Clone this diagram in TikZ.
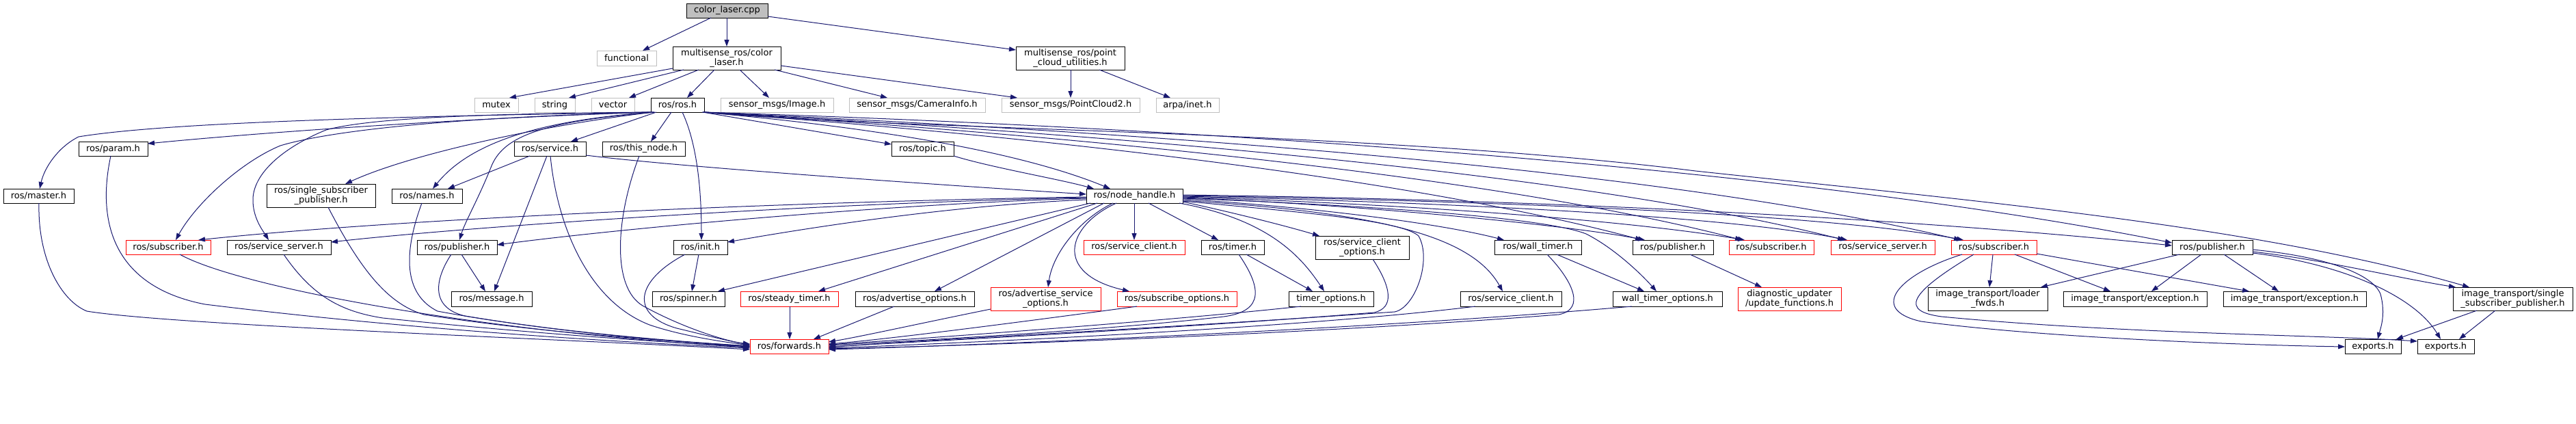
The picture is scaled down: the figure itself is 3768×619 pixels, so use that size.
\documentclass[tikz,border=0pt]{standalone}
\usepackage{fontspec}
\setmainfont{DejaVu Sans}
\usetikzlibrary{arrows.meta}
\definecolor{edgec}{HTML}{191970}
\definecolor{grayb}{HTML}{BFBFBF}
\definecolor{redb}{HTML}{FF0000}
\newcommand\mkn[7]{\node[#1,minimum width={#5-#3},minimum height={#6-#4}] (#2) at ({(#3+#5)/2},{(#4+#6)/2}) {#7};}
\begin{document}
\begin{tikzpicture}[x=1pt,y=-1pt,
  box/.style={draw=black,line width=1pt,fill=white,inner sep=0pt,outer sep=0pt,align=center,font=\fontsize{13}{12.5}\selectfont},
  gbox/.style={box,draw=grayb},
  rbox/.style={box,draw=redb},
  cbox/.style={box,fill=grayb},
  edge/.style={draw=edgec,line width=1pt,-{Triangle[length=10pt,width=7pt]}}]
\useasboundingbox (0,0) rectangle (3768,619);
% nodes
\mkn{cbox}{cpp}{1004}{5}{1123}{26}{color\_laser.cpp}
\mkn{gbox}{func}{873}{74}{960}{96}{functional}
\mkn{box}{clh}{984}{68}{1142}{102}{multisense\_ros/color\\\_laser.h}
\mkn{box}{pcu}{1486}{68}{1645}{102}{multisense\_ros/point\\\_cloud\_utilities.h}
\mkn{gbox}{mutex}{694}{143}{758}{164}{mutex}
\mkn{gbox}{string}{782}{143}{841}{164}{string}
\mkn{gbox}{vector}{865}{143}{928}{164}{vector}
\mkn{box}{rosh}{952}{143}{1030}{164}{ros/ros.h}
\mkn{gbox}{img}{1054}{143}{1219}{164}{sensor\_msgs/Image.h}
\mkn{gbox}{caminfo}{1242}{143}{1441}{164}{sensor\_msgs/CameraInfo.h}
\mkn{gbox}{pc2}{1465}{143}{1667}{164}{sensor\_msgs/PointCloud2.h}
\mkn{gbox}{inet}{1691}{143}{1783}{164}{arpa/inet.h}
\mkn{box}{param}{115}{207}{216}{228}{ros/param.h}
\mkn{box}{service}{752}{207}{857}{228}{ros/service.h}
\mkn{box}{thisnode}{881}{207}{1002}{228}{ros/this\_node.h}
\mkn{box}{topic}{1304}{207}{1395}{228}{ros/topic.h}
\mkn{box}{master}{5}{276}{108}{297}{ros/master.h}
\mkn{box}{ssp}{390}{269}{549}{303}{ros/single\_subscriber\\\_publisher.h}
\mkn{box}{names}{573}{276}{676}{297}{ros/names.h}
\mkn{box}{nh}{1589}{276}{1730}{297}{ros/node\_handle.h}
\mkn{rbox}{subL}{184}{351}{308}{372}{ros/subscriber.h}
\mkn{box}{ssL}{332}{351}{484}{372}{ros/service\_server.h}
\mkn{box}{pubL}{610}{351}{727}{372}{ros/publisher.h}
\mkn{box}{init}{985}{351}{1064}{372}{ros/init.h}
\mkn{rbox}{sc1}{1585}{351}{1733}{372}{ros/service\_client.h}
\mkn{box}{timer}{1757}{351}{1849}{372}{ros/timer.h}
\mkn{box}{sco}{1924}{345}{2061}{379}{ros/service\_client\\\_options.h}
\mkn{box}{wt}{2186}{351}{2313}{372}{ros/wall\_timer.h}
\mkn{box}{pubM}{2388}{351}{2506}{372}{ros/publisher.h}
\mkn{rbox}{subM}{2529}{351}{2653}{372}{ros/subscriber.h}
\mkn{rbox}{ssM}{2678}{351}{2830}{372}{ros/service\_server.h}
\mkn{rbox}{subR}{2854}{351}{2979}{372}{ros/subscriber.h}
\mkn{box}{pubR}{3177}{351}{3295}{372}{ros/publisher.h}
\mkn{box}{msg}{660}{426}{778}{448}{ros/message.h}
\mkn{box}{spinner}{954}{426}{1060}{448}{ros/spinner.h}
\mkn{rbox}{steady}{1083}{426}{1226}{448}{ros/steady\_timer.h}
\mkn{box}{advo}{1251}{426}{1425}{448}{ros/advertise\_options.h}
\mkn{rbox}{adso}{1449}{420}{1610}{454}{ros/advertise\_service\\\_options.h}
\mkn{rbox}{subo}{1634}{426}{1809}{448}{ros/subscribe\_options.h}
\mkn{box}{tmo}{1885}{426}{2009}{448}{timer\_options.h}
\mkn{box}{sc2}{2136}{426}{2284}{448}{ros/service\_client.h}
\mkn{box}{wto}{2359}{426}{2519}{448}{wall\_timer\_options.h}
\mkn{rbox}{diag}{2542}{420}{2693}{454}{diagnostic\_updater\\/update\_functions.h}
\mkn{box}{ldr}{2820}{420}{2995}{454}{image\_transport/loader\\\_fwds.h}
\mkn{box}{exc1}{3018}{426}{3228}{448}{image\_transport/exception.h}
\mkn{box}{exc2}{3252}{426}{3461}{448}{image\_transport/exception.h}
\mkn{box}{itssp}{3588}{420}{3763}{454}{image\_transport/single\\\_subscriber\_publisher.h}
\mkn{rbox}{fwd}{1097}{496}{1212}{517}{ros/forwards.h}
\mkn{box}{exp1}{3430}{496}{3512}{517}{exports.h}
\mkn{box}{exp2}{3536}{496}{3619}{517}{exports.h}
% edges: top
\draw[edge] (cpp.south -| 1040,0) -- (func.north -| 940,0);
\draw[edge] (cpp.south -| 1063,0) -- (clh.north -| 1063,0);
\draw[edge] (cpp.east |- 0,24) -- (pcu.west |- 0,73);
\draw[edge] (clh.west |- 0,100) -- (mutex.north -| 745,0);
\draw[edge] (clh.south -| 1000,0) -- (string.north -| 832,0);
\draw[edge] (clh.south -| 1022,0) -- (vector.north -| 920,0);
\draw[edge] (clh.south -| 1045,0) -- (rosh.north -| 1005,0);
\draw[edge] (clh.south -| 1082,0) -- (img.north -| 1125,0);
\draw[edge] (clh.south -| 1133,0) -- (caminfo.north -| 1298,0);
\draw[edge] (clh.east |- 0,96) -- (pc2.north -| 1488,0);
\draw[edge] (pcu.south -| 1566,0) -- (pc2.north -| 1566,0);
\draw[edge] (pcu.south -| 1608,0) -- (inet.north -| 1712,0);
% ros.h
\draw[edge] (rosh.south -| 960,0) -- (service.north -| 835,0);
\draw[edge] (rosh.south -| 982,0) -- (thisnode.north -| 952,0);
\draw[edge] (rosh.south -| 998,0) .. controls (1022,215) and (1026,290) .. (init.north -| 1026,0);
\draw[edge] (rosh.south -| 1028,0) -- (topic.west |- 0,211);
\draw[edge] (rosh.south -| 1027,0) .. controls (1300,188) and (1500,225) .. (nh.north -| 1624,0);
\draw[edge] (rosh.south -| 954,0) .. controls (700,172) and (400,192) .. (param.east |- 0,210);
\draw[edge] (rosh.south -| 953,0) .. controls (600,170) and (250,178) .. (115,200) .. controls (85,215) and (65,245) .. (master.north -| 58,0);
\draw[edge] (rosh.south -| 955,0) .. controls (650,172) and (480,192) .. (410,213) .. controls (350,238) and (285,300) .. (subL.north -| 257,0);
\draw[edge] (rosh.south -| 953,0) .. controls (750,166) and (550,170) .. (477,190) .. controls (420,213) and (372,250) .. (370,290) .. controls (369,318) and (385,338) .. (ssL.north -| 393,0);
\draw[edge] (rosh.south -| 956,0) .. controls (800,182) and (600,225) .. (ssp.north -| 505,0);
\draw[edge] (rosh.south -| 957,0) .. controls (800,175) and (690,205) .. (names.north -| 633,0);
\draw[edge] (rosh.south -| 958,0) .. controls (790,178) and (735,200) .. (718,245) .. controls (700,290) and (680,325) .. (pubL.north -| 672,0);
\draw[edge] (rosh.south -| 1029,0) .. controls (1600,205) and (2100,270) .. (pubM.north -| 2402,0);
\draw[edge] (rosh.south -| 1029,0) .. controls (1600,200) and (2200,260) .. (subM.north -| 2548,0);
\draw[edge] (rosh.south -| 1029,0) .. controls (1600,195) and (2300,250) .. (ssM.north -| 2698,0);
\draw[edge] (rosh.south -| 1029,0) .. controls (1600,190) and (2400,240) .. (subR.north -| 2868,0);
\draw[edge] (rosh.south -| 1029,0) .. controls (1700,185) and (2600,240) .. (pubR.west |- 0,355);
\draw[edge] (rosh.south -| 1029,0) .. controls (1300,190) and (2000,190) .. (2480,250) .. controls (2900,295) and (3300,330) .. (itssp.north -| 3612,0);
% node_handle
\draw[edge] (nh.east |- 0,289) .. controls (2000,300) and (2300,330) .. (pubM.north -| 2406,0);
\draw[edge] (nh.east |- 0,288) .. controls (2100,300) and (2400,325) .. (subM.north -| 2552,0);
\draw[edge] (nh.east |- 0,287) .. controls (2200,298) and (2550,320) .. (ssM.north -| 2702,0);
\draw[edge] (nh.east |- 0,286) .. controls (2300,296) and (2700,318) .. (subR.north -| 2872,0);
\draw[edge] (nh.east |- 0,285) .. controls (2400,294) and (2900,330) .. (pubR.west |- 0,359);
\draw[edge] (nh.east |- 0,291) .. controls (1950,305) and (2120,330) .. (wt.north -| 2200,0);
\draw[edge] (nh.east |- 0,290) .. controls (2000,300) and (2260,318) .. (2320,342) .. controls (2360,362) and (2400,400) .. (wto.north -| 2423,0);
\draw[edge] (nh.east |- 0,293) .. controls (2000,310) and (2150,340) .. (sc2.north -| 2198,0);
\draw[edge] (nh.east |- 0,294) .. controls (1900,310) and (2050,322) .. (2075,345) .. controls (2095,380) and (2070,450) .. (2040,456) .. controls (1700,480) and (1300,500) .. (fwd.east |- 0,508);
\draw[edge] (nh.east |- 0,295) .. controls (1800,310) and (1880,330) .. (sco.north -| 1930,0);
\draw[edge] (nh.south -| 1725,0) .. controls (1850,320) and (1900,370) .. (tmo.north -| 1937,0);
\draw[edge] (nh.south -| 1680,0) -- (timer.north -| 1782,0);
\draw[edge] (nh.south -| 1659,0) -- (sc1.north -| 1659,0);
\draw[edge] (nh.south -| 1633,0) .. controls (1560,330) and (1540,400) .. (subo.north -| 1652,0);
\draw[edge] (nh.south -| 1628,0) .. controls (1580,320) and (1540,370) .. (adso.north -| 1533,0);
\draw[edge] (nh.south -| 1615,0) -- (advo.north -| 1367,0);
\draw[edge] (nh.south -| 1605,0) -- (steady.north -| 1197,0);
\draw[edge] (nh.south -| 1595,0) -- (spinner.north -| 1050,0);
\draw[edge] (nh.west |- 0,292) .. controls (1400,300) and (1200,330) .. (init.east |- 0,354);
\draw[edge] (nh.west |- 0,290) .. controls (1300,298) and (900,335) .. (pubL.east |- 0,358);
\draw[edge] (nh.west |- 0,289) .. controls (1200,297) and (700,330) .. (ssL.east |- 0,354);
\draw[edge] (nh.west |- 0,288) .. controls (1200,294) and (600,318) .. (subL.north -| 290,0);
% other
\draw[edge] (service.south -| 775,0) -- (names.north -| 655,0);
\draw[edge] (service.south -| 800,0) -- (msg.north -| 723,0);
\draw[edge] (service.east |- 0,227) .. controls (1000,245) and (1400,272) .. (nh.west |- 0,284);
\draw[edge] (service.south -| 805,0) .. controls (815,330) and (860,440) .. (950,475) .. controls (1000,492) and (1060,500) .. (fwd.west |- 0,505);
\draw[edge] (topic.south -| 1395,0) .. controls (1450,245) and (1550,262) .. (nh.north -| 1600,0);
\draw[edge] (thisnode.south -| 935,0) .. controls (900,320) and (895,420) .. (940,447) .. controls (1000,480) and (1060,498) .. (fwd.west |- 0,504);
\draw[edge] (init.south -| 1022,0) -- (spinner.north -| 1012,0);
\draw[edge] (init.south -| 1002,0) .. controls (930,410) and (920,460) .. (990,480) .. controls (1040,492) and (1070,500) .. (fwd.west |- 0,503);
\draw[edge] (pubL.south -| 675,0) -- (msg.north -| 710,0);
\draw[edge] (pubL.south -| 660,0) .. controls (635,410) and (630,450) .. (680,462) .. controls (850,490) and (1000,500) .. (fwd.west |- 0,507);
\draw[edge] (names.south -| 617,0) .. controls (590,370) and (590,430) .. (640,455) .. controls (800,485) and (1000,500) .. (fwd.west |- 0,506);
\draw[edge] (ssp.south -| 480,0) .. controls (530,400) and (570,445) .. (620,460) .. controls (800,488) and (1000,500) .. (fwd.west |- 0,506);
\draw[edge] (ssL.south -| 415,0) .. controls (455,430) and (495,455) .. (560,465) .. controls (800,490) and (1000,502) .. (fwd.west |- 0,507);
\draw[edge] (subL.south -| 263,0) .. controls (350,420) and (700,485) .. (fwd.west |- 0,508);
\draw[edge] (param.south -| 162,0) .. controls (140,330) and (170,420) .. (300,445) .. controls (600,482) and (900,500) .. (fwd.west |- 0,509);
\draw[edge] (master.south -| 57,0) .. controls (55,380) and (90,440) .. (127,455) .. controls (250,475) and (800,495) .. (fwd.west |- 0,511);
\draw[edge] (steady.south -| 1155,0) -- (fwd.north -| 1155,0);
\draw[edge] (advo.south -| 1308,0) -- (fwd.north -| 1190,0);
\draw[edge] (adso.west |- 0,452) .. controls (1350,472) and (1260,492) .. (fwd.east |- 0,500);
\draw[edge] (subo.south -| 1663,0) .. controls (1500,470) and (1300,496) .. (fwd.east |- 0,503);
\draw[edge] (timer.south -| 1823,0) -- (tmo.north -| 1920,0);
\draw[edge] (timer.south -| 1812,0) .. controls (1845,420) and (1850,455) .. (1790,463) .. controls (1600,485) and (1300,500) .. (fwd.east |- 0,505);
\draw[edge] (sco.south -| 2008,0) .. controls (2035,420) and (2040,450) .. (2010,457) .. controls (1700,482) and (1300,502) .. (fwd.east |- 0,507);
\draw[edge] (tmo.south -| 1903,0) .. controls (1700,470) and (1350,495) .. (fwd.east |- 0,504);
\draw[edge] (sc2.south -| 2158,0) .. controls (1900,480) and (1400,502) .. (fwd.east |- 0,509);
\draw[edge] (wt.south -| 2277,0) -- (wto.north -| 2405,0);
\draw[edge] (wt.south -| 2263,0) .. controls (2300,410) and (2320,452) .. (2280,460) .. controls (1900,490) and (1400,506) .. (fwd.east |- 0,510);
\draw[edge] (wto.south -| 2387,0) .. controls (2000,482) and (1400,506) .. (fwd.east |- 0,511);
\draw[edge] (pubM.south -| 2472,0) -- (diag.north -| 2577,0);
\draw[edge] (subR.south -| 2915,0) -- (ldr.north -| 2910,0);
\draw[edge] (subR.south -| 2947,0) -- (exc1.north -| 3087,0);
\draw[edge] (subR.east |- 0,371) -- (exc2.north -| 3290,0);
\draw[edge] (subR.south -| 2870,0) .. controls (2780,400) and (2730,452) .. (2810,470) .. controls (3000,495) and (3300,505) .. (exp1.west |- 0,507);
\draw[edge] (subR.south -| 2887,0) .. controls (2790,430) and (2780,455) .. (2840,463) .. controls (3100,488) and (3400,490) .. (exp2.west |- 0,499);
\draw[edge] (pubR.south -| 3188,0) -- (ldr.north -| 2985,0);
\draw[edge] (pubR.south -| 3220,0) -- (exc1.north -| 3147,0);
\draw[edge] (pubR.south -| 3253,0) -- (exc2.north -| 3333,0);
\draw[edge] (pubR.east |- 0,368) .. controls (3400,380) and (3500,405) .. (itssp.north -| 3592,0);
\draw[edge] (pubR.east |- 0,365) .. controls (3400,375) and (3470,400) .. (3482,430) .. controls (3490,460) and (3482,480) .. (exp1.north -| 3478,0);
\draw[edge] (pubR.east |- 0,370) .. controls (3420,385) and (3530,430) .. (exp2.north -| 3570,0);
\draw[edge] (itssp.south -| 3623,0) -- (exp1.north -| 3505,0);
\draw[edge] (itssp.south -| 3650,0) -- (exp2.north -| 3597,0);
\end{tikzpicture}
\end{document}
